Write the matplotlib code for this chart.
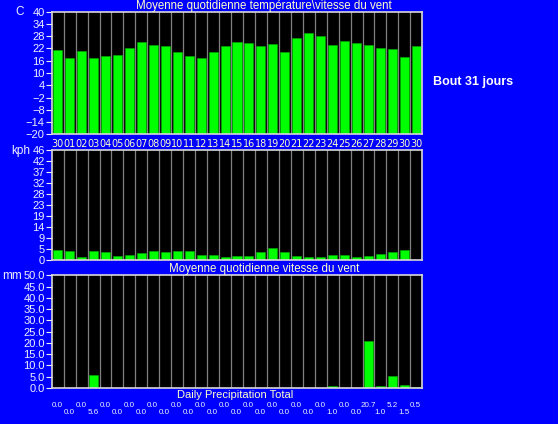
#daily averages: temperature, wind and precipitation over 31 days
import matplotlib
matplotlib.use("Agg")
import matplotlib.pyplot as plt

plt.rcParams['font.family'] = ['Liberation Sans', 'DejaVu Sans']

# data
days = ["30", "01", "02", "03", "04", "05", "06", "07", "08", "09", "10", "11", "12", "13", "14", "15",
        "16", "18", "19", "20", "21", "22", "23", "24", "25", "26", "27", "28", "29", "30", "30"]
temp = [21.3, 17.3, 20.8, 17.3, 18.5, 19.0, 22.2, 25.3, 23.9, 23.2, 20.3, 18.5, 17.3, 20.4, 23.2, 25.3,
        24.8, 23.2, 24.3, 20.4, 27.3, 29.7, 28.3, 23.9, 25.8, 24.8, 23.9, 22.4, 21.9, 18.0, 23.4]
wind = [4.3, 3.8, 1.4, 3.9, 3.3, 1.8, 2.1, 2.9, 3.8, 3.3, 3.8, 3.8, 2.1, 2.1, 1.4, 1.7,
        1.7, 3.3, 5.0, 3.5, 1.7, 1.3, 1.3, 2.1, 2.1, 1.4, 1.7, 2.5, 3.3, 4.3, 0.0]
rain = [0.0, 0.0, 0.0, 5.6, 0.0, 0.0, 0.0, 0.0, 0.0, 0.0, 0.0, 0.0, 0.0, 0.0, 0.0, 0.0,
        0.0, 0.0, 0.0, 0.0, 0.0, 0.0, 0.0, 1.0, 0.0, 0.0, 20.7, 1.0, 5.2, 1.5, 0.5]
temp_ticks = [40, 34, 28, 22, 16, 10, 4, -2, -8, -14, -20]
wind_ticks = ["0", "5", "9", "14", "19", "23", "28", "32", "37", "42", "46"]
rain_ticks = [0, 5, 10, 15, 20, 25, 30, 35, 40, 45, 50]

BLUE = "#0000ff"
GREEN = "#00ff00"
TXT = "#f0f0ff"
YEL = "#ffffc8"

W, H = 558, 424
fig = plt.figure(figsize=(W / 100, H / 100), dpi=100, facecolor=BLUE)

def box(x0, y0, x1, y1):
    # pixel box -> figure fraction
    return [x0 / W, (H - y1) / H, (x1 - x0) / W, (y1 - y0) / H]

def setup(ax, ymin, ymax):
    ax.set_facecolor("black")
    ax.set_xlim(-0.5, len(days) - 0.5)
    ax.set_ylim(ymin, ymax)
    for i in range(len(days) - 1):
        ax.axvline(i + 0.5, color="#808080", lw=0.9, zorder=1)
    for s in ax.spines.values():
        s.set_color("#d8d8d8")
        s.set_linewidth(1.2)
    ax.tick_params(axis="y", colors=TXT, labelcolor=TXT, labelsize=8, length=4, width=0.8, pad=1)
    ax.tick_params(axis="x", length=0)
    ax.set_xticks([])

x = list(range(len(days)))

# temperature
ax1 = fig.add_axes(box(51.7, 11.7, 422.3, 134.3))
setup(ax1, -20, 40)
ax1.bar(x, [t + 20 for t in temp], bottom=-20, width=0.76, color=GREEN, edgecolor="#00b000", lw=0.4, zorder=2)
ax1.set_yticks(temp_ticks)
for i, d in enumerate(days):
    ax1.text(i, -22.5, d, color=YEL, fontsize=7, ha="center", va="top", family="Liberation Sans Narrow")
fig.text(264 / W, 1 - 5.5 / H, "Moyenne quotidienne température\\vitesse du vent", color=YEL,
         fontsize=8.3, ha="center", va="center")
fig.text(20 / W, 1 - 12 / H, "C", color=TXT, fontsize=8.5, ha="center", va="center")
fig.text(473 / W, 1 - 82 / H, "Bout 31 jours", color="white", fontsize=9, fontweight="bold",
         ha="center", va="center")

# wind
ax2 = fig.add_axes(box(51.7, 150, 422.3, 260))
setup(ax2, 0, 46)
ax2.bar(x, wind, width=0.76, color=GREEN, edgecolor="#00b000", lw=0.4, zorder=2)
ax2.set_yticks([i * 4.6 for i in range(11)])
ax2.set_yticklabels(wind_ticks)
fig.text(21 / W, 1 - 151 / H, "kph", color=TXT, fontsize=8.5, ha="center", va="center")
fig.text(264 / W, 1 - 269 / H, "Moyenne quotidienne vitesse du vent", color=YEL,
         fontsize=8.3, ha="center", va="center")

# precipitation
ax3 = fig.add_axes(box(51.7, 275.3, 422.3, 388))
setup(ax3, 0, 50)
ax3.bar(x, rain, width=0.76, color=GREEN, edgecolor="#00b000", lw=0.4, zorder=2)
ax3.set_yticks(rain_ticks)
ax3.set_yticklabels(["%.1f" % v for v in rain_ticks])
fig.text(12 / W, 1 - 276 / H, "mm", color=TXT, fontsize=8.5, ha="center", va="center")
fig.text(235 / W, 1 - 395 / H, "Daily Precipitation Total", color=YEL, fontsize=8,
         ha="center", va="center")
for i, r in enumerate(rain):
    yy = -7.8 if i % 2 == 0 else -10.8
    ax3.text(i - 0.05, yy, "%.1f" % r, color=TXT, fontsize=5.8, ha="center", va="center", clip_on=False)

fig.savefig("out.png", dpi=100, facecolor=BLUE)
